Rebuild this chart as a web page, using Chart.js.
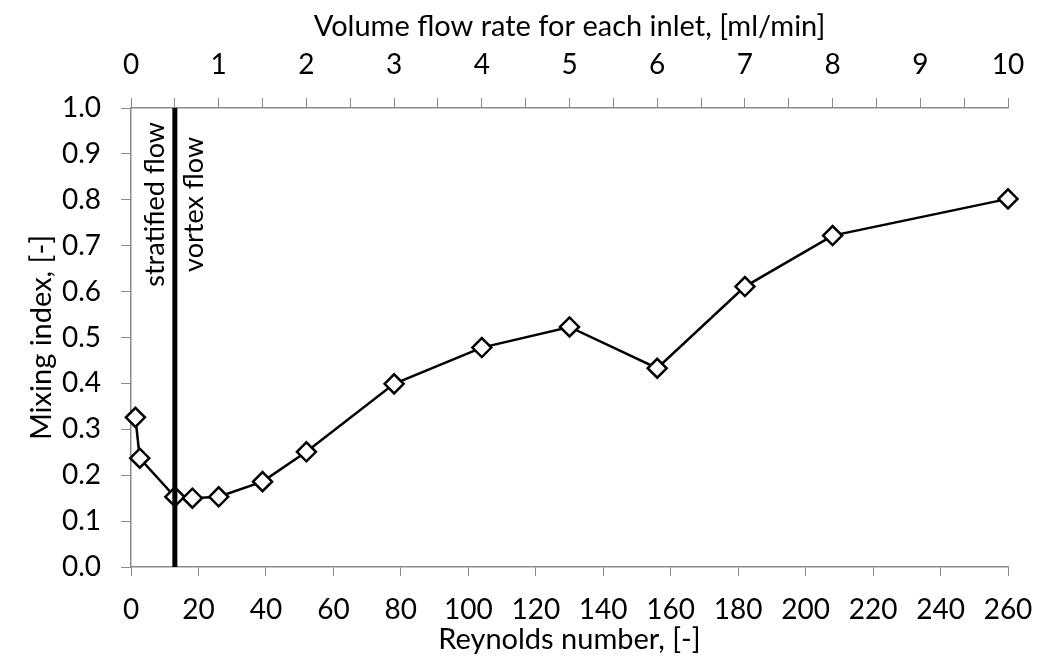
<!DOCTYPE html>
<html>
<head>
<meta charset="utf-8">
<script src="https://cdn.jsdelivr.net/npm/chart.js@4"></script>
<style>
  body { margin: 0; background: #fff; }
  #wrap { width: 1037px; height: 662px; }
</style>
</head>
<body>
<div id="wrap"><canvas id="myChart"></canvas></div>
<script>
// Reynolds number of each measurement
const reynolds = [1.3, 2.6, 13, 18.2, 26, 39, 52, 78, 104, 130, 156, 182, 208, 260];
// mixing index measured at each Reynolds number
const mixing = [0.326, 0.237, 0.153, 0.150, 0.153, 0.186, 0.251, 0.399, 0.478, 0.523, 0.433, 0.611, 0.722, 0.802];
// boundary between the two flow regimes
const transitionRe = 13;
const regimeLabels = ['stratified flow', 'vortex flow'];

const axisGray = '#8a8a8a';
Chart.defaults.font.family = 'Lato, sans-serif';
Chart.defaults.font.size = 28;
Chart.defaults.color = '#000';
const titleFont = { size: 29 };

//rotated regime labels on both sides of the transition line
const regimeText = {
  id: 'regimeText',
  afterDatasetsDraw(chart) {
    const c = chart.ctx;
    const px = chart.scales.x.getPixelForValue(transitionRe);
    const py = chart.scales.y.getPixelForValue(0.79);
    c.save();
    c.font = '27px Lato, sans-serif';
    c.fillStyle = '#000';
    c.textAlign = 'center';
    c.textBaseline = 'middle';
    [[regimeLabels[0], -20], [regimeLabels[1], 19]].forEach(([t, dx]) => {
      c.save();
      c.translate(px + dx, py);
      c.rotate(-Math.PI / 2);
      c.fillText(t, 0, 0);
      c.restore();
    });
    c.restore();
  }
};

var ctx = document.getElementById('myChart').getContext('2d');
var myChart = new Chart(ctx, {
  type: 'scatter',
  data: {
    datasets: [{
      // vertical transition line, drawn on top
      data: [{x: transitionRe, y: 0}, {x: transitionRe, y: 1}],
      showLine: true,
      borderColor: '#000',
      borderWidth: 5,
      pointRadius: 0
    }, {
      label: 'Mixing index',
      data: reynolds.map((r, i) => ({x: r, y: mixing[i]})),
      showLine: true,
      clip: false,
      borderColor: '#000',
      borderWidth: 2.5,
      pointStyle: 'rectRot',
      pointRadius: 9.5,
      pointBorderWidth: 2.5,
      pointBackgroundColor: '#fff',
      pointBorderColor: '#000'
    }]
  },
  options: {
    responsive: true,
    maintainAspectRatio: false,
    animation: false,
    layout: { padding: { top: 0, right: 29, bottom: 0, left: 0 } },
    plugins: {
      legend: { display: false },
      tooltip: { enabled: false }
    },
    scales: {
      x: {
        type: 'linear',
        position: 'bottom',
        min: 0, max: 260,
        ticks: { stepSize: 20, autoSkip: false, maxRotation: 0, padding: 17 },
        grid: { drawOnChartArea: false, tickLength: 9, color: axisGray },
        border: { color: axisGray, width: 1.5 },
        title: { display: true, text: 'Reynolds number, [-]', font: titleFont, padding: { top: 0, bottom: 5 } },
        afterFit: s => { s.height = 95; s.paddingLeft = 0; s.paddingRight = 0; }
      },
      x2: {
        type: 'linear',
        position: 'top',
        min: 0, max: 10,
        ticks: {
          stepSize: 0.5, autoSkip: false, maxRotation: 0, padding: 16,
          callback: v => Number.isInteger(v) ? v : ''
        },
        grid: { drawOnChartArea: false, tickLength: 10, color: axisGray },
        border: { color: axisGray, width: 1.5 },
        title: { display: true, text: 'Volume flow rate for each inlet, [ml/min]', font: titleFont, padding: { top: 9, bottom: 0 } },
        afterFit: s => { s.height = 108; s.paddingLeft = 0; s.paddingRight = 0; }
      },
      y: {
        min: 0, max: 1,
        ticks: { stepSize: 0.1, padding: 20, callback: v => v.toFixed(1) },
        grid: { drawOnChartArea: false, tickLength: 10, color: axisGray },
        border: { color: axisGray, width: 1.5 },
        title: { display: true, text: 'Mixing index, [-]', font: titleFont, padding: { top: 24, bottom: 0 } },
        afterFit: s => { s.width = 131; }
      }
    }
  },
  plugins: [regimeText]
});
</script>
</body>
</html>
